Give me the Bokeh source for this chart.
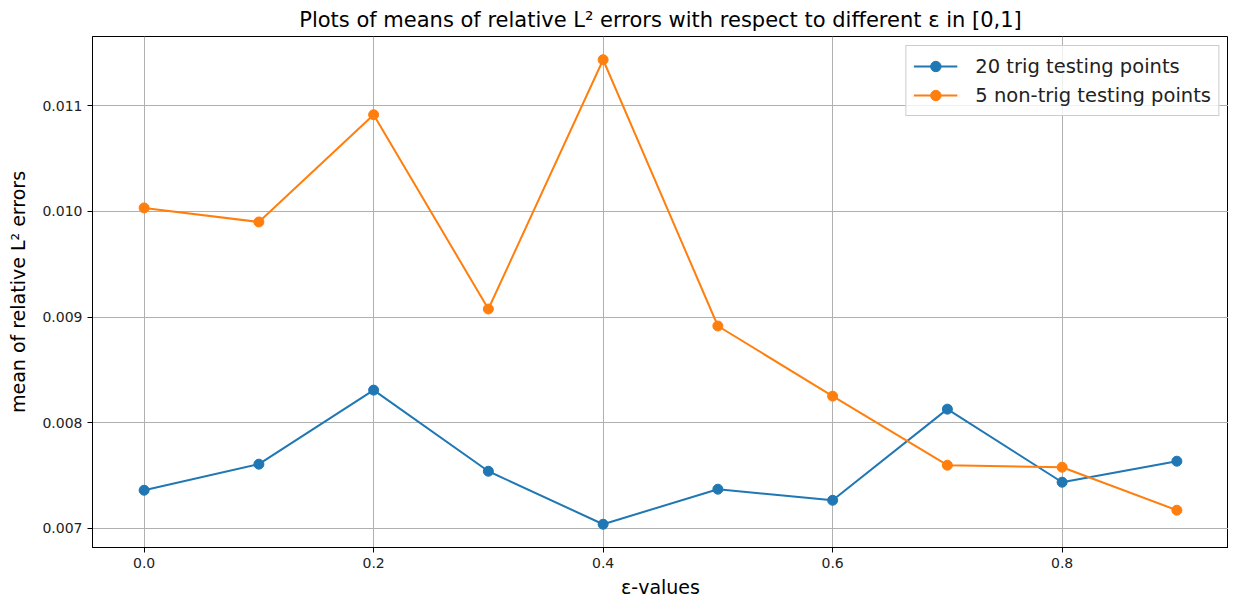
from bokeh.plotting import figure
from bokeh.models import FixedTicker, NumeralTickFormatter, Range1d, Legend
from bokeh.embed import file_html
from bokeh.resources import INLINE

eps = [0.0, 0.1, 0.2, 0.3, 0.4, 0.5, 0.6, 0.7, 0.8, 0.9]
trig20 = [0.00736, 0.007607, 0.008308, 0.00754, 0.007038, 0.00737, 0.007265, 0.008128, 0.007436, 0.007635]
nontrig5 = [0.010033, 0.0099, 0.010915, 0.009076, 0.011436, 0.008915, 0.008251, 0.007597, 0.007578, 0.007171]
xticks = [0.0, 0.2, 0.4, 0.6, 0.8]
yticks = [0.007, 0.008, 0.009, 0.010, 0.011]

FONT = "DejaVu Sans"
BLUE = "#1f77b4"
ORANGE = "#ff7f0e"

p = figure(frame_width=1136, frame_height=511,
           min_border_left=92, min_border_top=28, min_border_right=0, min_border_bottom=48,
           output_backend="svg", toolbar_location=None,
           x_range=Range1d(-0.045, 0.945), y_range=Range1d(0.006818, 0.011656),
           title="Plots of means of relative L² errors with respect to different ε in [0,1]")

p.title.text_font = FONT
p.title.text_font_size = "21px"
p.title.text_font_style = "normal"
p.title.align = "center"
p.title.text_color = "#000000"

p.background_fill_color = "white"
p.border_fill_color = "white"
p.outline_line_color = "black"
p.outline_line_width = 1

p.xaxis.ticker = FixedTicker(ticks=xticks)
p.yaxis.ticker = FixedTicker(ticks=yticks)
p.xaxis.formatter = NumeralTickFormatter(format="0.0")
p.yaxis.formatter = NumeralTickFormatter(format="0.000")
for ax in (p.xaxis, p.yaxis):
    ax.major_label_text_font = FONT
    ax.major_label_text_font_size = "14px"
    ax.major_label_text_color = "#222222"
    ax.axis_label_text_font = FONT
    ax.axis_label_text_font_size = "19px"
    ax.axis_label_text_font_style = "normal"
    ax.axis_label_text_color = "#000000"
    ax.major_tick_out = 5
    ax.major_tick_in = 0
    ax.minor_tick_out = 0
    ax.minor_tick_in = 0
    ax.axis_line_color = "black"
    ax.major_tick_line_color = "black"
p.xaxis.axis_label = "ε-values"
p.yaxis.axis_label = "mean of relative L² errors"
p.xaxis.axis_label_standoff = 5
p.yaxis.axis_label_standoff = 10

p.grid.grid_line_color = "#b0b0b0"
p.grid.grid_line_width = 1

l1 = p.line(eps, trig20, line_color=BLUE, line_width=2)
s1 = p.scatter(eps, trig20, size=10, fill_color=BLUE, line_color=BLUE)
l2 = p.line(eps, nontrig5, line_color=ORANGE, line_width=2)
s2 = p.scatter(eps, nontrig5, size=10, fill_color=ORANGE, line_color=ORANGE)

legend = Legend(items=[("20 trig testing points", [l1, s1]),
                       ("5 non-trig testing points", [l2, s2])],
                location="top_right")
legend.label_text_font = FONT
legend.label_text_font_size = "19.5px"
legend.label_text_color = "#222222"
legend.border_line_color = "#cccccc"
legend.border_line_alpha = 1
legend.background_fill_alpha = 0.8
legend.margin = 9
legend.padding = 7
legend.spacing = 3
legend.glyph_width = 44
legend.glyph_height = 26
legend.label_height = 26
legend.label_standoff = 18
p.add_layout(legend)

open("out.html", "w").write(file_html(p, INLINE))
